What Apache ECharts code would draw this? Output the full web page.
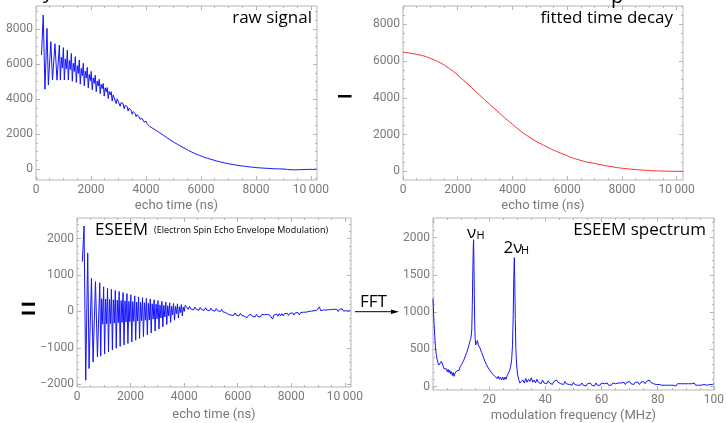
<!DOCTYPE html>
<html><head><meta charset="utf-8">
<script src="https://cdn.jsdelivr.net/npm/echarts@6/dist/echarts.min.js"></script>
<style>html,body{margin:0;padding:0;background:#fff}#c{width:727px;height:423px}</style>
</head><body><div id="c"></div>
<script>
// ---------- data ----------
const timeNs = [200,263,326,400,450,540,600,690,763,
 850,886,922,959, 995,1031,1067,1104, 1140,1176,1212,1249, 1285,1321,1357,1394,
 1430,1466,1502,1539, 1575,1611,1647,1684, 1720,1756,1792,1829, 1865,1901,1937,1974,
 2010,2046,2082,2119, 2155,2191,2227,2264, 2300,2336,2372,2409, 2445,2481,2517,2554,
 2590,2626,2662,2699, 2735,2771,2807,2844, 2880,2916,2952,2989, 3025,3061,3097,3134,
 3170,3206,3242,3279, 3315,3351,3387,3424, 3460,3496,3532,3569, 3605,3641,3677,3714,
 3750,3786,3822,3859, 3895,3931,3967,4004, 4040,
 4100,4150,4200,4250,4300,4350,4400,4450,4500,4550,
 4600,4650,4700,4750,4800,4850,4900,4950,5000,5050,
 5100,5150,5200,5250,5300,5350,5400,5450,5500,5550,
 5600,5650,5700,5750,5800,5850,5900,5950,6000,6050,
 6100,6150,6200,6250,6300,6350,6400,6450,6500,6550,
 6600,6650,6700,6750,6800,6850,6900,6950,7000,7050,
 7100,7150,7200,7250,7300,7350,7400,7450,7500,7550,
 7600,7650,7700,7750,7800,7850,7900,7950,8000,8050,
 8100,8150,8200,8250,8300,8350,8400,8450,8500,8550,
 8600,8650,8700,8750,8800,8850,8900,8950,9000,9050,
 9100,9150,9200,9250,9300,9350,9400,9450,9500,9550,
 9600,9650,9700,9750,9800,9850,9900,9950,10000,10050,
 10100,10150,10200];
const rawSignal = [6510,8790,4560,8030,4800,7270,5090,7150,5080,
 7080,5080,6380,5780, 6930,5090,6290,5730, 6790,5090,6195,5685, 6600,5020,6045,5575,
 6420,4950,5905,5465, 6230,4850,5745,5335, 6040,4750,5590,5200, 5810,4640,5400,5050,
 5580,4530,5210,4900, 5360,4420,5030,4750, 5130,4310,4840,4600, 4890,4170,4640,4420,
 4660,4030,4440,4250, 4420,3890,4235,4075, 4160,3740,4015,3885, 3920,3590,3805,3705,
 3740,3450,3640,3550, 3580,3320,3490,3410, 3360,3140,3285,3215, 3180,3000,3115,3065,
 2990,2850,2940,2900, 2805,2695,2765,2735, 2600,
 2500,2420,2430,2330,2340,2240,2230,2130,2140,2030,
 2020,1920,1930,1810,1800,1710,1720,1610,1600,1510,
 1520,1420,1410,1330,1330,1240,1230,1160,1150,1070,
 1060,990,1000,920,910,850,860,790,780,730,
 740,670,670,620,630,570,560,530,540,480,
 480,440,450,400,400,370,380,330,340,300,
 320,280,290,250,270,220,240,200,220,180,
 200,160,180,140,170,120,150,110,140,90,
 130,80,110,70,100,60,90,50,80,40,
 70,30,70,30,60,20,60,20,110,10,
 40,-10,30,-20,30,-30,20,-30,20,-20,
 20,-20,30,-10,30,-10,40,0,30,-10,
 40,0,30];
const eseemSignal = [1370,2350,-1890,1610,-1570,910,-1390,820,-1250,
 790,-1230,350,-350, 680,-1170,340,-340, 640,-1110,330,-330, 610,-1060,320,-320,
 580,-1010,310,-310, 550,-960,300,-300, 520,-920,290,-290, 490,-880,280,-280,
 460,-840,270,-270, 430,-790,260,-260, 400,-740,250,-250, 380,-690,240,-240,
 360,-640,230,-230, 340,-590,210,-210, 320,-540,200,-200, 300,-480,180,-180,
 280,-420,170,-150, 260,-360,160,-120, 240,-300,150,-90, 220,-240,140,-60,
 210,-180,130,-30, 190,-120,120,0, 170,
 120,60,140,70,110,40,120,60,100,30,
 110,50,90,30,100,40,80,20,90,30,
 70,10,80,20,60,0,60,-10,40,-30,
 -20,-80,-30,-100,-50,-110,-40,-100,-60,-120,
 -50,-110,-70,-130,-90,-170,-110,-160,-80,-140,
 -90,-150,-80,-140,-90,-150,-80,-130,-90,-140,
 -80,-130,-100,-150,-210,-100,-140,-70,-130,-60,
 -120,-60,-120,-60,-110,-50,-110,-50,-100,-40,
 -100,-40,-90,-30,-90,-30,-80,-20,-70,-20,
 -60,0,-50,10,-40,20,-30,30,-10,130,
 20,-20,40,-10,40,0,50,0,50,10,
 60,10,60,0,60,20,70,10,60,20,
 70,10,50];
const fitTimeNs = [0,500,1000,1600,2200,2800,3400,4000,4600,5250,5850,6450,7100,7700,8300,8900,9500,10240];
const fitDecay  = [6480,6370,6150,5690,4970,4150,3340,2560,1880,1340,940,615,400,235,125,55,16,0];
const freqMHz = [0,0.3,0.6,0.9,1.2,1.5,1.8,2.1,2.4,2.7,3.0,3.3,3.6,3.9,4.2,4.5,4.8,5.1,5.4,5.7,
 6.0,6.3,6.6,6.9,7.2,7.5,7.8,8.1,8.4,8.7,9.0,9.3,9.6,9.9,10.2,10.5,10.8,11.1,11.4,11.7,
 12.0,12.3,12.6,12.9,13.2,13.5,13.8,14.0,14.2,14.35,14.45,14.55,14.7,14.85,15.0,15.2,15.5,15.8,16.1,16.4,
 16.7,17.0,17.3,17.6,17.9,18.2,18.5,18.8,19.1,19.4,19.7,20.0,20.4,20.8,21.2,21.6,22.0,22.4,22.8,23.2,
 23.6,24.0,24.4,24.8,25.2,25.6,26.0,26.4,26.8,27.2,27.6,28.0,28.3,28.55,28.75,28.95,29.1,29.3,29.5,29.8,
 30.1,30.5,30.9,31.2,
 31.5,32,32.5,33,33.5,34,34.5,35,35.5,36,36.5,37,37.5,38,38.5,39,39.5,40,40.5,41,
 41.5,42,42.5,43,43.5,44,44.5,45,45.5,46,46.5,47,47.5,48,48.5,49,49.5,50,50.5,51,
 51.5,52,52.5,53,53.5,54,54.5,55,55.5,56,56.5,57,57.5,58,58.5,59,59.5,60,60.5,61,
 61.5,62,62.5,63,63.5,64,64.5,65,65.5,66,66.5,67,67.5,68,68.5,69,69.5,70,70.5,71,
 71.5,72,72.5,73,73.5,74,74.5,75,75.5,76,76.5,77,77.5,78,78.5,79,79.5,80,80.5,81,
 81.5,82,82.5,83,83.5,84,84.5,85,85.5,86,86.5,87,87.5,88,88.5,89,89.5,90,90.5,91,
 91.5,92,92.5,93,93.5,94,94.5,95,95.5,96,96.5,97,97.5,98,98.5,99,99.5,100];
const spectrum = [1180,900,690,520,420,360,320,290,270,300,340,360,280,240,260,220,240,200,230,190,
 220,170,200,150,190,140,180,170,210,190,230,220,260,250,300,290,340,350,400,410,
 460,470,530,570,620,650,760,1100,1600,1880,1970,1750,1250,850,650,560,590,620,560,580,
 520,530,460,450,400,390,340,330,290,290,250,250,210,210,170,180,140,160,110,140,
 100,130,90,130,90,130,100,150,160,210,260,360,550,950,1450,1730,1450,900,500,280,
 170,100,50,30,
 40,90,50,110,60,100,70,120,60,90,50,100,60,80,40,90,50,70,40,80,
 50,60,30,70,50,90,60,80,40,60,30,70,40,60,30,50,20,60,30,50,
 20,40,20,50,20,40,10,40,20,50,20,40,10,50,20,40,20,50,30,40,
 20,50,20,40,20,50,30,40,20,50,30,50,30,60,30,60,40,70,40,60,
 30,60,40,60,30,60,40,70,40,70,50,90,60,80,40,60,30,50,30,50,
 20,40,20,40,20,40,20,40,20,40,10,40,20,40,20,40,20,40,20,40,
 20,40,20,50,20,40,20,40,20,40,30,50,20,40,30,50,30,40];
// tick labels
const timeTicks = [0,2000,4000,6000,8000,10000];
const rawTicks = [0,2000,4000,6000,8000];
const eseemTicks = [-2000,-1000,0,1000,2000];
const freqTicks = [20,40,60,80,100];
const specTicks = [0,500,1000,1500,2000];

// ---------- styling / layout ----------
const FRAME = '#b5b5b5', LABEL = '#7a7a7a', BLUE = '#1414ff', RED = '#ff2a2a';
const TICKFONT = 'Roboto', TITLEFONT = 'Open Sans';
function minors(min, max, step, majors) {
  const out = [];
  for (let v = Math.ceil(min / step) * step; v <= max + 1e-9; v += step) {
    if (!majors.some(m => Math.abs(m - v) < 1e-6)) out.push(+v.toFixed(6));
  }
  return out;
}
function fmt(v) {
  if (v === 10000) return '10\u2009000';
  return v < 0 ? '\u2212' + (-v) : String(v);
}
const grids = [], xAxes = [], yAxes = [];
function panel(g, xr, xMaj, xStep, xLab, yr, yMaj, yStep, name, nameGap) {
  const gi = grids.length;
  grids.push(Object.assign({show: true, borderColor: FRAME, borderWidth: 1, backgroundColor: 'transparent', containLabel: false}, g));
  const xMin = minors(xr[0], xr[1], xStep, xMaj), yMin = minors(yr[0], yr[1], yStep, yMaj);
  const xi = xAxes.length, yi = yAxes.length;
  const base = (dimMin, dimMax) => ({gridIndex: gi, type: 'value', min: dimMin, max: dimMax, splitLine: {show: false},
    axisLine: {show: false, onZero: false}});
  xAxes.push(Object.assign(base(xr[0], xr[1]), {position: 'bottom',
    axisTick: {show: true, inside: true, length: 4, customValues: xMaj, lineStyle: {color: FRAME}},
    axisLabel: {show: true, customValues: xLab, margin: 4, color: LABEL, fontFamily: TICKFONT, fontSize: 12, formatter: fmt},
    name: name, nameLocation: 'middle', nameGap: nameGap,
    nameTextStyle: {color: LABEL, fontFamily: TICKFONT, fontSize: 13}}));
  [['bottom', xMin, 2], ['top', xMaj, 4], ['top', xMin, 2]].forEach(c => {
    xAxes.push(Object.assign(base(xr[0], xr[1]), {position: c[0],
      axisTick: {show: true, inside: true, length: c[2], customValues: c[1], lineStyle: {color: FRAME}},
      axisLabel: {show: false}}));
  });
  yAxes.push(Object.assign(base(yr[0], yr[1]), {position: 'left',
    axisTick: {show: true, inside: true, length: 4, customValues: yMaj, lineStyle: {color: FRAME}},
    axisLabel: {show: true, customValues: yMaj, margin: 3, color: LABEL, fontFamily: TICKFONT, fontSize: 12, formatter: fmt}}));
  [['left', yMin, 2], ['right', yMaj, 4], ['right', yMin, 2]].forEach(c => {
    yAxes.push(Object.assign(base(yr[0], yr[1]), {position: c[0],
      axisTick: {show: true, inside: true, length: c[2], customValues: c[1], lineStyle: {color: FRAME}},
      axisLabel: {show: false}}));
  });
  return [xi, yi];
}
const p1 = panel({left: 36, top: 6, width: 281, height: 174}, [0, 10220], timeTicks, 500, timeTicks,
  [-610, 9305], rawTicks, 500, 'echo time (ns)', 19);
const p2 = panel({left: 403, top: 6, width: 280, height: 174}, [0, 10230], timeTicks, 500, timeTicks,
  [-470, 9000], rawTicks, 500, 'echo time (ns)', 19);
const p3 = panel({left: 77, top: 218, width: 274, height: 169}, [0, 10230], timeTicks, 500, timeTicks,
  [-2077, 2570], eseemTicks, 200, 'echo time (ns)', 21);
const p4 = panel({left: 433, top: 218, width: 283, height: 174}, [0, 100], [0].concat(freqTicks), 5, freqTicks,
  [-44, 2262], specTicks, 100, 'modulation frequency (MHz)', 19);

const zip = (a, b) => a.map((v, i) => [v, b[i]]);
const lineSeries = (p, data, color, smooth) => ({type: 'line', xAxisIndex: p[0], yAxisIndex: p[1], data: data,
  showSymbol: false, symbol: 'none', smooth: smooth, lineStyle: {color: color, width: 1}, silent: true, clip: true});

function txt(x, y, s, size, align, color) {
  return {type: 'text', x: x, y: y, silent: true,
    style: {text: s, fontFamily: TITLEFONT, fontSize: size, fill: color || '#000', align: align || 'left', verticalAlign: 'middle'}};
}
const graphics = [
  txt(43, -7.7, 'y', 20),
  txt(611, -2.5, 'p', 20),
  txt(312, 17.8, 'raw signal', 17, 'right'),
  txt(673, 18.4, 'fitted time decay', 17, 'right'),
  txt(95, 230, 'ESEEM', 17),
  txt(154, 230.3, '(Electron Spin Echo Envelope Modulation)', 9),
  txt(706, 230, 'ESEEM spectrum', 17, 'right'),
  txt(360, 302, 'FFT', 17),
  txt(467, 233.3, '\u03bd', 17),
  txt(476.5, 235.7, 'H', 11),
  txt(503.5, 248.3, '2\u03bd', 17),
  txt(521, 250.7, 'H', 11),
  {type: 'rect', shape: {x: 338, y: 95, width: 13.5, height: 2.5}, style: {fill: '#000'}, silent: true},
  {type: 'rect', shape: {x: 21.7, y: 302.7, width: 13.3, height: 3}, style: {fill: '#000'}, silent: true},
  {type: 'rect', shape: {x: 21.7, y: 311.5, width: 13.3, height: 3}, style: {fill: '#000'}, silent: true},
  {type: 'line', shape: {x1: 355, y1: 311.7, x2: 393, y2: 311.7}, style: {stroke: '#000', lineWidth: 1}, silent: true},
  {type: 'polygon', shape: {points: [[391, 309.4], [399, 311.7], [391, 314]]}, style: {fill: '#000'}, silent: true}
];

const chart = echarts.init(document.getElementById('c'), null, {renderer: 'canvas'});
chart.setOption({
  animation: false,
  backgroundColor: '#fff',
  grid: grids, xAxis: xAxes, yAxis: yAxes,
  series: [
    lineSeries(p1, zip(timeNs, rawSignal), BLUE, false),
    lineSeries(p2, zip(fitTimeNs, fitDecay), RED, true),
    lineSeries(p3, zip(timeNs, eseemSignal), BLUE, false),
    lineSeries(p4, zip(freqMHz, spectrum), BLUE, false)
  ],
  graphic: graphics
});
</script></body></html>
